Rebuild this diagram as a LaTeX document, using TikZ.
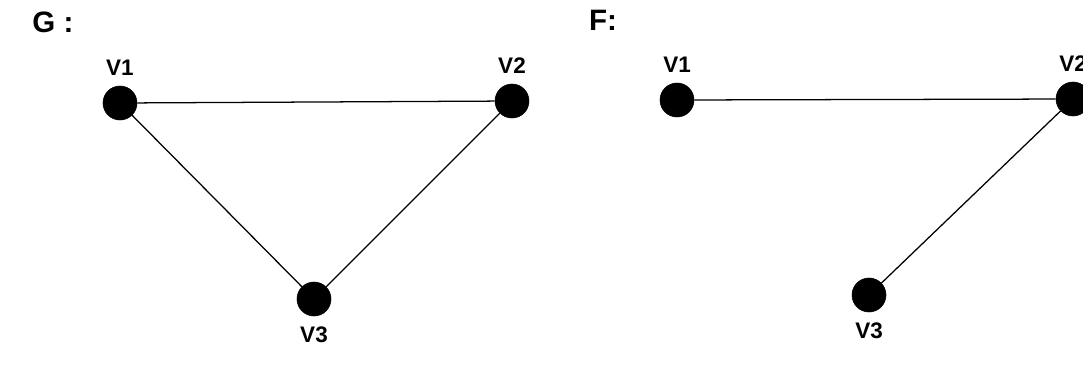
\documentclass[tikz,border=0pt]{standalone}
\usepackage{fontspec}
\setmainfont{Liberation Sans}
\usetikzlibrary{positioning}

\begin{document}
\begin{tikzpicture}[
  x=0.025cm, y=-0.025cm,
  vertex/.style={circle, fill=black, draw=black, minimum size=0.85cm, inner sep=0pt},
  vlabel/.style={font=\fontsize{16}{18}\selectfont\bfseries, inner sep=1pt},
  gname/.style={font=\fontsize{21}{24}\selectfont\bfseries, inner sep=0pt},
  link/.style={black, line width=0.9pt}
]
\useasboundingbox (0,0) rectangle (1083,383);

% graph G
\node[gname] (gG) at (53,22) {G :};
\node[vertex] (g1) at (120,103) {};
\node[vertex] (g2) at (512,101) {};
\node[vertex] (g3) at (314,299) {};
\node[vlabel, above=0.22cm of g1] (lg1) {V1};
\node[vlabel, above=0.22cm of g2] (lg2) {V2};
\node[vlabel, below=0.22cm of g3] (lg3) {V3};
\draw[link] (g1) -- (g2);
\draw[link] (g1) -- (g3);
\draw[link] (g2) -- (g3);

% graph F
\node[gname] (gF) at (603,20) {F:};
\node[vertex] (f1) at (677,100) {};
\node[vertex] (f2) at (1073,99) {};
\node[vertex] (f3) at (869,295) {};
\node[vlabel, above=0.22cm of f1] (lf1) {V1};
\node[vlabel, above=0.22cm of f2] (lf2) {V2};
\node[vlabel, below=0.22cm of f3] (lf3) {V3};
\draw[link] (f1) -- (f2);
\draw[link] (f2) -- (f3);

\end{tikzpicture}
\end{document}
